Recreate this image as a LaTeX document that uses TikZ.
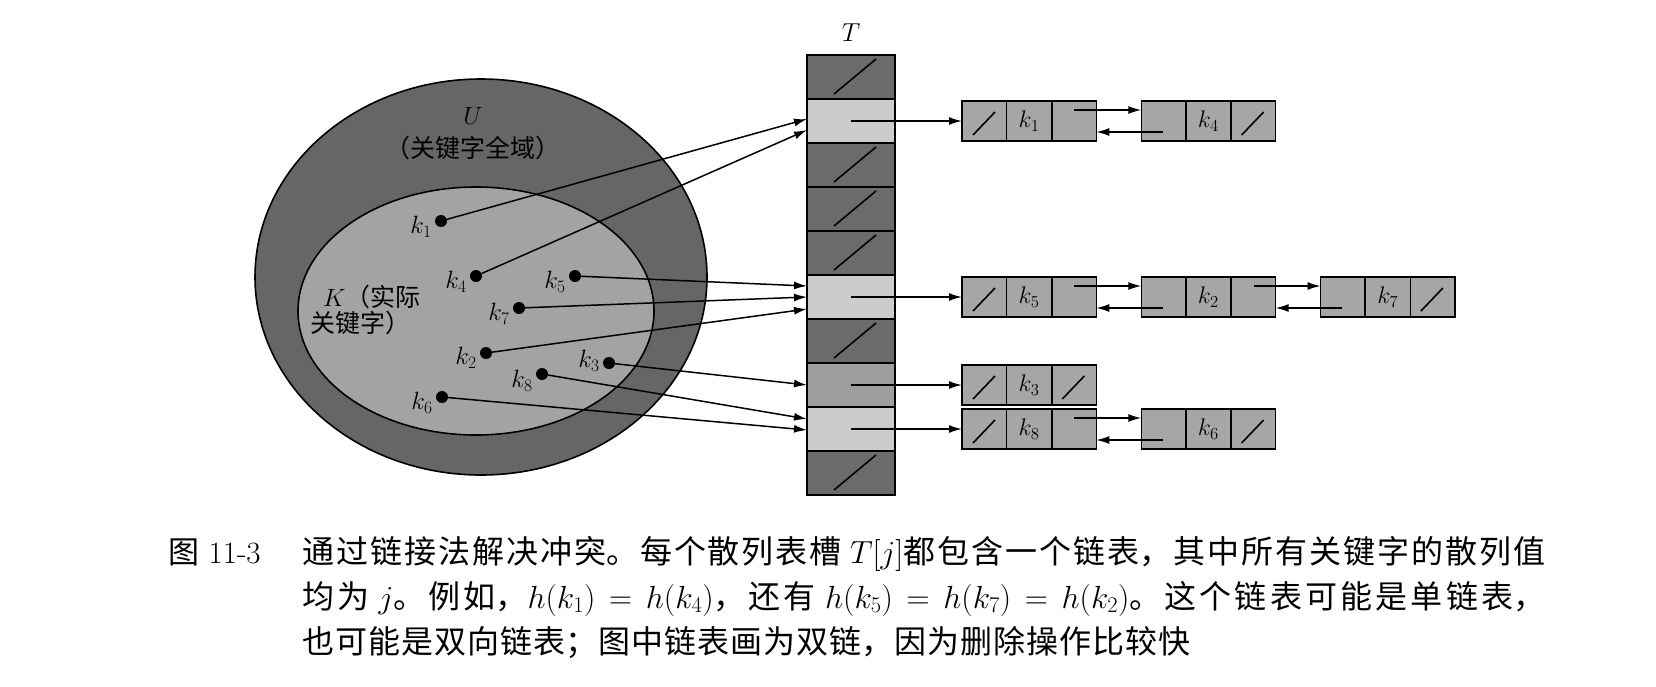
\RequirePackage{fix-cm}
\documentclass[tikz,border=0pt]{standalone}
\usepackage{fontspec}
\newfontfamily\cjk{Noto Sans CJK SC}
\usepackage{tikz}
\usetikzlibrary{arrows.meta, positioning, shapes.geometric, shapes.multipart}
\tikzset{%
	slot/.style = {
		rectangle, draw=black, line width=1.6pt,
		minimum width=88pt, minimum height=44pt,
		inner sep=0pt, outer sep=0pt
	},
	emptyslot/.style = {
		slot, fill=black!58,
		path picture={\draw[line width=1.6pt] ([shift={(27pt,5pt)}]path picture bounding box.south west) -- ([shift={(-19pt,-4pt)}]path picture bounding box.north east);}
	},
	elem/.style = {
		rectangle split, rectangle split horizontal, rectangle split parts=3,
		draw=black, line width=1.6pt, fill=black!35,
		text width=43.7pt, minimum height=40pt, inner sep=0pt, outer sep=0pt,
		align=center, font=\fontsize{24}{24}\selectfont
	},
	nilprev/.style = {
		path picture={\draw[line width=1.6pt] ([shift={(11pt,6pt)}]path picture bounding box.south west) -- ([shift={(33pt,29pt)}]path picture bounding box.south west);}
	},
	nilnext/.style = {
		path picture={\draw[line width=1.6pt] ([shift={(-34pt,6pt)}]path picture bounding box.south east) -- ([shift={(-12pt,29pt)}]path picture bounding box.south east);}
	},
	nilboth/.style = {
		path picture={\draw[line width=1.6pt] ([shift={(11pt,6pt)}]path picture bounding box.south west) -- ([shift={(33pt,29pt)}]path picture bounding box.south west);
			\draw[line width=1.6pt] ([shift={(-34pt,6pt)}]path picture bounding box.south east) -- ([shift={(-12pt,29pt)}]path picture bounding box.south east);}
	},
	key/.style = {circle, fill=black, inner sep=0pt, minimum size=12pt},
	keyname/.style = {inner sep=0pt, font=\fontsize{25}{25}\selectfont},
	arr/.style = {-{Latex[length=13pt, width=8pt]}, line width=1.5pt}
}

\begin{document}
\begin{tikzpicture}[x=1pt, y=-1pt]
    \useasboundingbox (0,0) rectangle (1656,686);

    % universe and actual keys
    \node (U)       [ellipse, draw=black, line width=1.6pt, fill=black!60, minimum width=452pt, minimum height=396pt, inner sep=0pt] at (481,277) {};
    \node (K)       [ellipse, draw=black, line width=1.6pt, fill=black!36, minimum width=356pt, minimum height=248pt, inner sep=0pt] at (476,311) {};
    \node (ulabel)  [anchor=base, align=center, font=\fontsize{25}{33}\selectfont\cjk] at (473,157) {$U$\\（关键字全域）};
    \node (klabel)  [anchor=base west, align=left, inner sep=0pt, font=\fontsize{25}{26}\selectfont\cjk] at (310,332) {\hspace{13pt}$K$（实际\\关键字）};

    \node (k1) [key] at (441,221) {};
    \node (k4) [key] at (476,276) {};
    \node (k5) [key] at (575,276) {};
    \node (k7) [key] at (519,308) {};
    \node (k2) [key] at (486,353) {};
    \node (k3) [key] at (609,363) {};
    \node (k8) [key] at (542,374) {};
    \node (k6) [key] at (442,397) {};
    \node (n1) [keyname, left=3pt of k1, yshift=-6pt] {$k_1$};
    \node (n4) [keyname, left=3pt of k4, yshift=-6pt] {$k_4$};
    \node (n5) [keyname, left=3pt of k5, yshift=-6pt] {$k_5$};
    \node (n7) [keyname, left=3pt of k7, yshift=-6pt] {$k_7$};
    \node (n2) [keyname, left=3pt of k2, yshift=-5pt] {$k_2$};
    \node (n3) [keyname, left=3pt of k3, yshift=2pt] {$k_3$};
    \node (n8) [keyname, left=3pt of k8, yshift=-7pt] {$k_8$};
    \node (n6) [keyname, left=3pt of k6, yshift=-6pt] {$k_6$};

    % table T
    \node (t0) [emptyslot] at (851,77) {};
    \node (t1) [slot, fill=black!20, below=0pt of t0] {};
    \node (t2) [emptyslot, below=0pt of t1] {};
    \node (t3) [emptyslot, below=0pt of t2] {};
    \node (t4) [emptyslot, below=0pt of t3] {};
    \node (t5) [slot, fill=black!20, below=0pt of t4] {};
    \node (t6) [emptyslot, below=0pt of t5] {};
    \node (t7) [slot, fill=black!38, below=0pt of t6] {};
    \node (t8) [slot, fill=black!20, below=0pt of t7] {};
    \node (t9) [emptyslot, below=0pt of t8] {};
    \node (tname) [above=13pt of t0, inner sep=0pt, font=\fontsize{26}{26}\selectfont] {$T$};

    % chains
    \node (e1) [elem, nilprev, right=67pt of t1] {\nodepart{two}$k_1$\nodepart{three}};
    \node (e4) [elem, nilnext, right=45pt of e1] {\nodepart{two}$k_4$\nodepart{three}};
    \node (e5) [elem, nilprev, right=67pt of t5] {\nodepart{two}$k_5$\nodepart{three}};
    \node (e2) [elem, right=45pt of e5] {\nodepart{two}$k_2$\nodepart{three}};
    \node (e7) [elem, nilnext, right=45pt of e2] {\nodepart{two}$k_7$\nodepart{three}};
    \node (e3) [elem, nilboth, right=67pt of t7] {\nodepart{two}$k_3$\nodepart{three}};
    \node (e8) [elem, nilprev, right=67pt of t8] {\nodepart{two}$k_8$\nodepart{three}};
    \node (e6) [elem, nilnext, right=45pt of e8] {\nodepart{two}$k_6$\nodepart{three}};

    \draw[arr] (k1) -- ([yshift=2pt]t1.west);
    \draw[arr] (k4) -- ([yshift=-9pt]t1.west);
    \draw[arr] (k5) -- ([yshift=11pt]t5.west);
    \draw[arr] (k7) -- (t5.west);
    \draw[arr] (k2) -- ([yshift=-12pt]t5.west);
    \draw[arr] (k3) -- (t7.west);
    \draw[arr] (k8) -- ([yshift=10pt]t8.west);
    \draw[arr] (k6) -- ([yshift=-1pt]t8.west);

    \draw[arr] (t1.center) -- (e1.west);
    \draw[arr] (t5.center) -- (e5.west);
    \draw[arr] (t7.center) -- (e3.west);
    \draw[arr] (t8.center) -- (e8.west);

    \draw[arr] ([yshift=-9pt]e1.three north) -- ([yshift=11pt]e4.west);
    \draw[arr] ([yshift=9pt]e4.one south) -- ([yshift=-11pt]e1.east);
    \draw[arr] ([yshift=-9pt]e5.three north) -- ([yshift=11pt]e2.west);
    \draw[arr] ([yshift=9pt]e2.one south) -- ([yshift=-11pt]e5.east);
    \draw[arr] ([yshift=-9pt]e2.three north) -- ([yshift=11pt]e7.west);
    \draw[arr] ([yshift=9pt]e7.one south) -- ([yshift=-11pt]e2.east);
    \draw[arr] ([yshift=-9pt]e8.three north) -- ([yshift=11pt]e6.west);
    \draw[arr] ([yshift=9pt]e6.one south) -- ([yshift=-11pt]e8.east);

    % caption
    \node (fignum) [anchor=base west, inner sep=0pt, font=\fontsize{31}{45}\selectfont] at (168,563) {{\cjk 图}~11-3};
    \node (caption) [anchor=base west, inner sep=0pt, text width=1243pt, align=justify,
        font={\fontsize{32}{45}\selectfont\cjk\XeTeXlinebreaklocale "zh"\XeTeXlinebreakskip=1pt plus 4pt}] at (302,563)
        {通过链接法解决冲突。每个散列表槽 $T[j]$都包含一个链表，其中所有关键字的散列值\linebreak
        均为 $j$。例如，$h(k_1)=h(k_4)$，还有 $h(k_5)=h(k_7)=h(k_2)$。这个链表可能是单链表，\linebreak
        也可能是双向链表；图中链表画为双链，因为删除操作比较快};
\end{tikzpicture}
\end{document}
